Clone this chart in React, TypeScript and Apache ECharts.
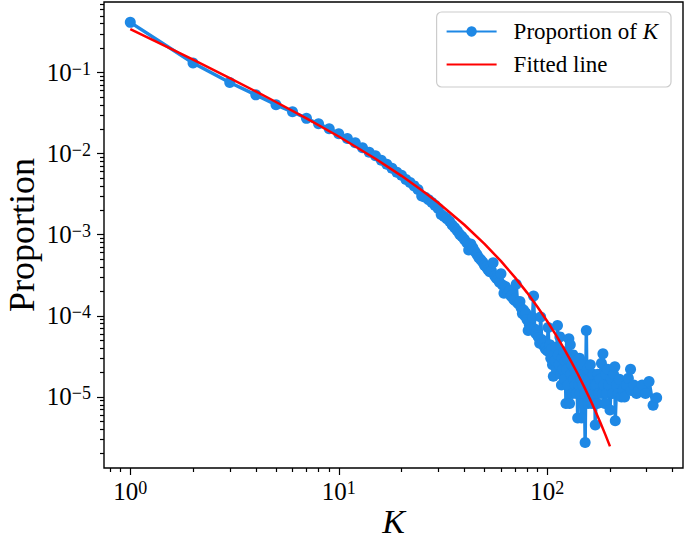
import React, { useEffect, useRef } from 'react';
import * as echarts from 'echarts';

// ---------- data ----------
const kValues = [
  1, 2, 3, 4, 5, 6, 7, 8, 9, 10,
  11, 12, 13, 14, 15, 16, 17, 18, 19, 20,
  21, 22, 23, 24, 25, 26, 27, 28, 29, 30,
  31, 32, 33, 34, 35, 36, 37, 38, 39, 40,
  41, 42, 43, 44, 45, 46, 47, 48, 49, 50,
  51, 52, 53, 54, 55, 56, 57, 58, 59, 60,
  61, 62, 63, 64, 65, 66, 67, 68, 69, 70,
  71, 72, 73, 74, 75, 76, 77, 78, 79, 80,
  81, 82, 83, 84, 85, 86, 87, 88, 89, 90,
  91, 92, 93, 94, 95, 96, 97, 98, 99, 100,
  101, 102, 103, 104, 105, 106, 107, 108, 109, 110,
  111, 112, 113, 114, 115, 116, 117, 118, 119, 120,
  121, 122, 123, 124, 125, 126, 127, 128, 129, 130,
  131, 132, 133, 134, 135, 136, 137, 138, 139, 140,
  141, 142, 143, 144, 145, 146, 147, 148, 149, 150,
  151, 152, 154, 155, 156, 157, 158, 160, 161, 163,
  164, 166, 167, 169, 170, 172, 174, 175, 177, 179,
  182, 184, 185, 187, 189, 191, 193, 195, 197, 200,
  203, 206, 208, 211, 212, 215, 219, 222, 227, 231,
  235, 240, 245, 251, 253, 260, 268, 275, 285, 296,
  308, 322, 335,
];

const proportionValues = [
  0.415, 0.131, 0.0753, 0.053, 0.04, 0.0328, 0.0272, 0.0233, 0.0203, 0.0176,
  0.0154, 0.0136, 0.0118, 0.0104, 0.0094, 0.0083, 0.0074, 0.0066, 0.0059, 0.0054,
  0.0048, 0.0044, 0.004, 0.0036, 0.003, 0.0029, 0.0027, 0.0025, 0.0023, 0.0021,
  0.00178, 0.00168, 0.00157, 0.00147, 0.00132, 0.00122, 0.00112, 0.00101, 0.00095, 0.00088,
  0.00081, 0.00065, 0.00077, 0.00069, 0.00062, 0.00057, 0.00052, 0.00049, 0.00046, 0.00042,
  0.0004, 0.00037, 0.00035, 0.00036, 0.00045, 0.00031, 0.00029, 0.00028, 0.00026, 0.00033,
  0.00024, 0.00019, 0.00023, 0.00021, 0.00019, 0.000205, 0.000175, 0.00018, 0.00016, 0.000155,
  0.000245, 0.000145, 0.00014, 0.00015, 0.000125, 0.000107, 0.000118, 0.0001, 0.000108, 0.00009,
  0.000066, 0.000079, 0.000072, 0.000069, 0.000096, 0.000176, 0.000069, 0.000061, 0.000065, 0.000057,
  0.000054, 0.000046, 0.000097, 0.000051, 0.000047, 0.000043, 0.000046, 0.000039, 0.000041, 0.000037,
  0.000072, 0.000036, 0.000044, 0.00003, 0.000039, 0.000025, 0.000018, 0.000033, 0.000028, 0.000041,
  0.000022, 0.000076, 0.000033, 0.000025, 0.000055, 0.000019, 0.000014, 0.00003, 0.000022, 0.000036,
  0.0000165, 0.0000275, 0.0000083, 0.000022, 0.00003, 0.000014, 0.000052, 0.0000083, 0.000044, 0.000019,
  0.000025, 0.000011, 0.000033, 0.0000165, 0.000022, 0.000014, 0.0000275, 0.000011, 0.000019, 0.0000055,
  0.000022, 0.000014, 0.00003, 0.000011, 0.0000165, 0.0000055, 0.000025, 0.000014, 0.0000083, 0.000019,
  0.000011, 0.00000275, 0.000066, 0.000014, 0.000022, 0.0000083, 0.0000165, 0.000011, 0.000025, 0.000014,
  0.0000083, 0.000019, 0.000011, 0.000014, 0.0000045, 0.000014, 0.0000083, 0.000019, 0.000011, 0.0000165,
  0.000026, 0.000011, 0.000034, 0.000014, 0.0000083, 0.000019, 0.000011, 0.000022, 0.000014, 0.0000069,
  0.0000165, 0.000011, 0.000019, 0.0000235, 0.0000051, 0.000014, 0.000011, 0.0000165, 0.00001, 0.000012,
  0.00001, 0.000014, 0.000017, 0.000022, 0.000012, 0.000014, 0.000011, 0.000012, 0.000014, 0.000011,
  0.0000155, 0.0000079, 0.0000098,
];

const fitK = [1, 1.5, 2, 3, 4, 5, 7, 10, 15, 20, 25, 30, 40, 50, 60, 70, 80, 90, 100, 110, 120, 130, 140, 150, 160, 170, 180, 190, 200];
const fitP = [
  0.3437, 0.2068, 0.1437, 0.0852, 0.0584, 0.0433, 0.0272, 0.01624, 0.00865, 0.00532,
  0.00354, 0.002475, 0.001328, 0.000772, 0.000472, 0.000298, 0.0001933, 0.0001278, 0.0000857, 0.0000582,
  0.0000399, 0.0000276, 0.0000193, 0.00001351, 0.00000953, 0.00000675, 0.0000048, 0.00000343, 0.00000246,
];

const xMajorTicks = [1, 10, 100];
const xMinorTicks = [0.8, 0.9, 2, 3, 4, 5, 6, 7, 8, 9, 20, 30, 40, 50, 60, 70, 80, 90, 200, 300, 400];
const yMajorTicks = [0.00001, 0.0001, 0.001, 0.01, 0.1];
const yMinorTicks = [
  0.000002, 0.000003, 0.000004, 0.000005, 0.000006, 0.000007, 0.000008, 0.000009,
  0.00002, 0.00003, 0.00004, 0.00005, 0.00006, 0.00007, 0.00008, 0.00009,
  0.0002, 0.0003, 0.0004, 0.0005, 0.0006, 0.0007, 0.0008, 0.0009,
  0.002, 0.003, 0.004, 0.005, 0.006, 0.007, 0.008, 0.009,
  0.02, 0.03, 0.04, 0.05, 0.06, 0.07, 0.08, 0.09,
  0.2, 0.3, 0.4, 0.5, 0.6, 0.7,
];

const SERIF = '"Liberation Serif", "Times New Roman", serif';
const BLUE = '#1E88E5';
const RED = '#FF0000';

const X_MIN = 0.748;
const X_MAX = 448;
const Y_MIN = 0.00000133;
const Y_MAX = 0.74;

function powLabel(v: number) {
  const e = Math.round(Math.log10(v));
  const s = e < 0 ? '\u2212' + Math.abs(e) : String(e);
  return '{b|10}{s|' + s + '}';
}

const labelRich = {
  b: { fontFamily: SERIF, fontSize: 25, color: '#000', lineHeight: 25, verticalAlign: 'bottom' },
  s: { fontFamily: SERIF, fontSize: 18, color: '#000', lineHeight: 18, verticalAlign: 'top', padding: [0, 0, 15, 0] },
};

const tickLine = { color: '#000', width: 1.2 };

export default function App() {
  const ref = useRef<HTMLDivElement>(null);

  useEffect(() => {
    if (!ref.current) return;
    const chart = echarts.init(ref.current, undefined, { renderer: 'svg' });
    const option: any = {
      animation: false,
      backgroundColor: '#fff',
      grid: {
        left: 104, right: 2, top: 2, bottom: 77,
        containLabel: false,
        outerBoundsMode: 'none',
        show: true, borderColor: '#000', borderWidth: 1.4, backgroundColor: 'transparent',
      },
      legend: {
        show: true,
        orient: 'vertical',
        right: 14,
        top: 12,
        data: [
          { name: 'Proportion' },
          { name: 'Fitted line', itemStyle: { opacity: 0 } },
        ],
        formatter: (n: string) => (n === 'Proportion' ? 'Proportion of {i|K}' : n),
        itemWidth: 50,
        itemHeight: 13,
        itemGap: 10,
        padding: [8, 13, 11, 9],
        borderColor: '#cccccc',
        borderWidth: 1.2,
        borderRadius: 5,
        backgroundColor: 'rgba(255,255,255,0.8)',
        textStyle: {
          fontFamily: SERIF, fontSize: 23, color: '#000', padding: [0, 0, 0, 12],
          rich: { i: { fontFamily: SERIF, fontSize: 23, fontStyle: 'italic', color: '#000' } },
        },
      },
      xAxis: [
        {
          type: 'log', logBase: 10, min: X_MIN, max: X_MAX, position: 'bottom',
          name: 'K', nameLocation: 'middle', nameGap: 36, nameMoveOverlap: false,
          nameTextStyle: { fontFamily: SERIF, fontStyle: 'italic', fontSize: 34, color: '#000' },
          axisLine: { show: false },
          axisTick: { show: true, inside: false, length: 7, lineStyle: tickLine, customValues: xMajorTicks },
          axisLabel: { show: true, customValues: xMajorTicks, formatter: powLabel, rich: labelRich, margin: 11 },
          splitLine: { show: false },
        },
        {
          type: 'log', logBase: 10, min: X_MIN, max: X_MAX, position: 'bottom',
          axisLine: { show: false },
          axisTick: { show: true, inside: false, length: 4, lineStyle: tickLine, customValues: xMinorTicks },
          axisLabel: { show: false },
          splitLine: { show: false },
        },
      ],
      yAxis: [
        {
          type: 'log', logBase: 10, min: Y_MIN, max: Y_MAX, position: 'left',
          name: 'Proportion', nameLocation: 'middle', nameGap: 64, nameMoveOverlap: false,
          nameTextStyle: { fontFamily: SERIF, fontSize: 36, color: '#000' },
          axisLine: { show: false },
          axisTick: { show: true, inside: false, length: 7, lineStyle: tickLine, customValues: yMajorTicks },
          axisLabel: { show: true, customValues: yMajorTicks, formatter: powLabel, rich: labelRich, margin: 13 },
          splitLine: { show: false },
        },
        {
          type: 'log', logBase: 10, min: Y_MIN, max: Y_MAX, position: 'left',
          axisLine: { show: false },
          axisTick: { show: true, inside: false, length: 4, lineStyle: tickLine, customValues: yMinorTicks },
          axisLabel: { show: false },
          splitLine: { show: false },
        },
      ],
      series: [
        {
          name: 'Proportion',
          type: 'line',
          xAxisIndex: 0,
          yAxisIndex: 0,
          data: kValues.map((k, i) => [k, proportionValues[i]]),
          symbol: 'circle',
          symbolSize: 11,
          showSymbol: true,
          lineStyle: { width: 3.5, color: BLUE },
          itemStyle: { color: BLUE },
          z: 2,
        },
        {
          name: 'Fitted line',
          type: 'line',
          xAxisIndex: 0,
          yAxisIndex: 0,
          data: fitK.map((k, i) => [k, fitP[i]]),
          symbol: 'none',
          lineStyle: { width: 2.5, color: RED },
          itemStyle: { color: RED },
          z: 3,
        },
      ],
    };
    chart.setOption(option);
    return () => chart.dispose();
  }, []);

  return (
    <div
      ref={ref}
      style={{ position: 'fixed', left: 0, top: 0, width: 685, height: 545, background: '#fff' }}
    />
  );
}
